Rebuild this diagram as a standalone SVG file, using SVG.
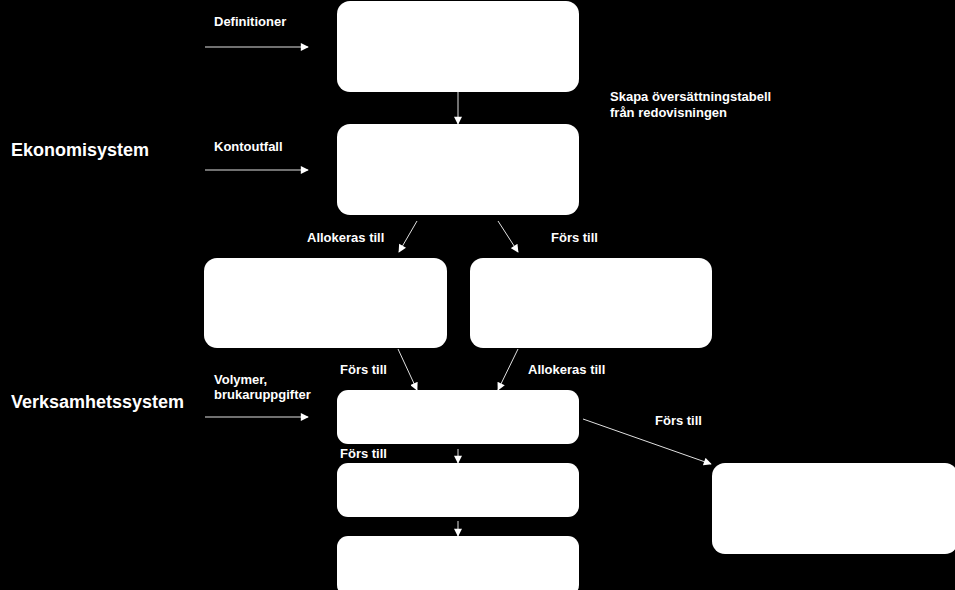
<svg xmlns="http://www.w3.org/2000/svg" width="955" height="590" viewBox="0 0 955 590">
<style>
.box{fill:#fff;stroke:none}
.lbl{font-family:"Liberation Sans",Arial,sans-serif;font-weight:bold;font-size:13px;fill:#fff}
.sys{font-family:"Liberation Sans",Arial,sans-serif;font-weight:bold;font-size:18px;fill:#fff}
.con{stroke:#e0e0e0;stroke-width:1;fill:none;marker-end:url(#ah)}
</style>
<defs>
<marker id="ah" viewBox="0 0 10 10" refX="9" refY="5" markerWidth="9" markerHeight="8" markerUnits="userSpaceOnUse" orient="auto">
<path d="M0,0 L10,5 L0,10 z" fill="#fff"/>
</marker>
</defs>
<rect width="955" height="590" fill="#000"/>
<g id="n1"><rect class="box" x="337" y="1" width="242" height="91" rx="13"/></g>
<g id="n2"><rect class="box" x="337" y="124" width="242" height="91" rx="13"/></g>
<g id="n3"><rect class="box" x="204" y="258" width="243" height="90" rx="13"/></g>
<g id="n4"><rect class="box" x="470" y="258" width="242" height="90" rx="13"/></g>
<g id="n5"><rect class="box" x="337" y="390" width="242" height="54" rx="11"/></g>
<g id="n6"><rect class="box" x="337" y="463" width="242" height="54" rx="11"/></g>
<g id="n7"><rect class="box" x="337" y="536" width="242" height="60" rx="11"/></g>
<g id="n8"><rect class="box" x="712" y="463" width="246" height="91" rx="13"/></g>
<g id="connectors">
<line class="con" x1="205" y1="47" x2="308" y2="47"/>
<line class="con" x1="205" y1="170" x2="308" y2="170"/>
<line class="con" x1="205" y1="417" x2="308" y2="417"/>
<line class="con" x1="458" y1="92" x2="458" y2="124"/>
<line class="con" x1="417" y1="221" x2="399" y2="252"/>
<line class="con" x1="498" y1="221" x2="518" y2="252"/>
<line class="con" x1="398" y1="349" x2="417" y2="390"/>
<line class="con" x1="518" y1="349" x2="498" y2="390"/>
<line class="con" x1="583" y1="419" x2="711" y2="464"/>
<line class="con" x1="458" y1="449" x2="458" y2="463"/>
<line class="con" x1="458" y1="521" x2="458" y2="536"/>
</g>
<g id="labels">
<text class="sys" x="11" y="156">Ekonomisystem</text>
<text class="sys" x="11" y="408">Verksamhetssystem</text>
<text class="lbl" x="214" y="26">Definitioner</text>
<text class="lbl" x="214" y="151">Kontoutfall</text>
<text class="lbl" x="610" y="101">Skapa översättningstabell</text>
<text class="lbl" x="610" y="117">från redovisningen</text>
<text class="lbl" x="307" y="242">Allokeras till</text>
<text class="lbl" x="551" y="242">Förs till</text>
<text class="lbl" x="340" y="374">Förs till</text>
<text class="lbl" x="528" y="374">Allokeras till</text>
<text class="lbl" x="214" y="384">Volymer,</text>
<text class="lbl" x="214" y="399">brukaruppgifter</text>
<text class="lbl" x="655" y="425">Förs till</text>
<text class="lbl" x="340" y="458">Förs till</text>
</g>
</svg>
